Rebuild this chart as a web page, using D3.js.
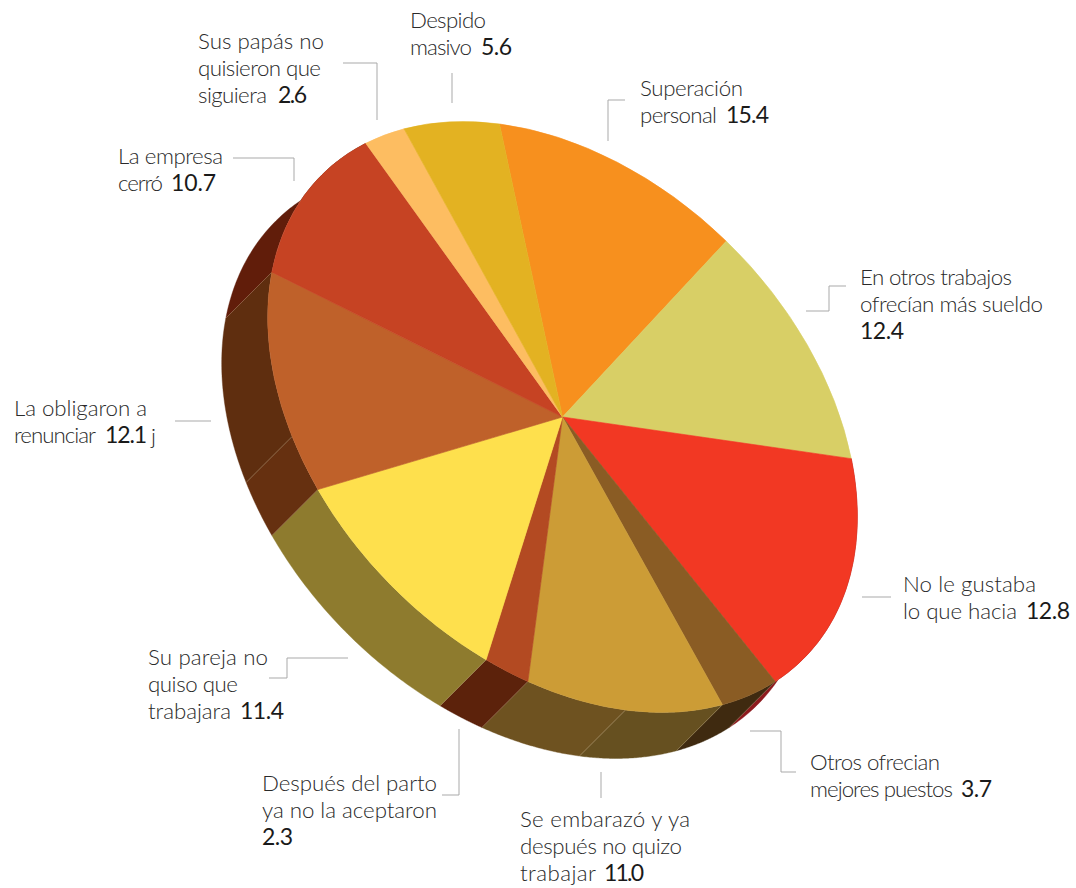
<!DOCTYPE html>
<html>
<head>
<meta charset="utf-8">
<script src="https://cdn.jsdelivr.net/npm/d3@7"></script>
<style>
html,body{margin:0;padding:0;background:#fff;}
svg{display:block;}
text{font-family:"Lato",sans-serif;font-weight:300;font-size:22.3px;fill:#2a2a2a;}
text.n{font-weight:400;font-size:23px;fill:#1a1a1a;}
</style>
</head>
<body>
<svg id="c" width="1076" height="888"></svg>
<script>
// Slice sizes as drawn in the picture (the printed labels for the orange and red slices are swapped in the original)
const sliceNames = ["Superación personal","En otros trabajos ofrecían más sueldo","No le gustaba lo que hacia","Otros ofrecian mejores puestos","Se embarazó y ya después no quizo trabajar","Después del parto ya no la aceptaron","Su pareja no quiso que trabajara","La obligaron a renunciar","La empresa cerró","Sus papás no quisieron que siguiera","Despido masivo"];
const sliceValues = [12.8,12.4,15.4,3.7,11.0,2.3,11.4,12.1,10.7,2.6,5.6];
const sliceColors = ["#F7901E","#D8CF66","#F23823","#8A5C24","#CC9C36","#B34A22","#FEE04D","#BF612A","#C64323","#FDBD61","#E3B222"];
// Side wall pieces (some slices have two pieces)
const wallValues = [12.8,12.4,15.4,3.7,5.7,5.3,2.3,11.4,2.9,9.2,10.7,2.6,5.6];
const wallColors = ["#F7901E","#D8CF66","#8E1A1E","#3F2A10","#665020","#6E5220","#5C220B","#8E7B2E","#663010","#5F2E0F","#611D0A","#FDBD61","#E3B222"];
const wallVisible = [false,false,true,true,true,true,true,true,true,true,true,false,false];

// Label lines: [plain text, number]
const labelLines = [
  [["Sus papás no",""],["quisieron que",""],["siguiera","2.6"]],
  [["Despido",""],["masivo","5.6"]],
  [["Superación",""],["personal","15.4"]],
  [["En otros trabajos",""],["ofrecían más sueldo",""],["","12.4"]],
  [["No le gustaba",""],["lo que hacia","12.8"]],
  [["Otros ofrecian",""],["mejores puestos","3.7"]],
  [["Se embarazó y ya",""],["después no quizo",""],["trabajar","11.0"]],
  [["Después del parto",""],["ya no la aceptaron",""],["","2.3"]],
  [["Su pareja no",""],["quiso que",""],["trabajara","11.4"]],
  [["La obligaron a",""],["renunciar","12.1"]],
  [["La empresa",""],["cerró","10.7"]]
];
const footnote = "j";
// Layout: left edge, first baseline, and per line [right end of text, number left, number right]
const labelX = [198,410,640,860,903,810,520,262,148,14,118];
const labelY = [49,28,96,285,592,770,827,791,665,416,164];
const lineGap = 27;
const labelEnds = [
  [[324],[321],[267,278,307]],
  [[486],[472,481,512]],
  [[743],[717,726,769]],
  [[1012],[1043],[0,860,904]],
  [[1036],[1017,1026,1070]],
  [[940],[953,961,992]],
  [[690],[682],[596,604,644]],
  [[437],[437],[0,262,293]],
  [[268],[238],[231,240,284]],
  [[147],[96,105,147]],
  [[223],[163,171,216]]
];

const leaders = [
  [[343,63],[377,63],[377,120]],
  [[452,73],[452,103]],
  [[625,100],[608,100],[608,141]],
  [[846,286],[829,286],[829,311],[806,311]],
  [[862,597],[891,597]],
  [[750,731],[781,731],[781,772],[796,772]],
  [[601,772],[601,798]],
  [[459,729],[459,795],[442,795]],
  [[348,658],[287,658],[287,678],[269,678]],
  [[175,421],[211,421]],
  [[233,158],[294,158],[294,181]]
];

// Projection of the tilted disc
const C = [562.5,417], A = [-63,-293], B = [288,38], D = [-46,46];
const project = a => [C[0]+A[0]*Math.cos(a)+B[0]*Math.sin(a), C[1]+A[1]*Math.cos(a)+B[1]*Math.sin(a)];

const svg = d3.select("#c");
const pie = d3.pie().sort(null).value(d=>d);
const line = d3.line();

// Side walls
const wallG = svg.append("g");
pie(wallValues).forEach((w,i)=>{
  if(!wallVisible[i]) return;
  const n = 60;
  const angs = d3.range(n+1).map(k=>w.startAngle+(w.endAngle-w.startAngle)*k/n);
  const top = angs.map(project);
  const bot = angs.map(project).map(p=>[p[0]+D[0],p[1]+D[1]]).reverse();
  wallG.append("path").attr("d",line(top.concat(bot))+"Z")
    .attr("fill",wallColors[i]).attr("stroke",wallColors[i]).attr("stroke-width",0.4);
});
// Hairlines between wall pieces
pie(wallValues).forEach((w,i)=>{
  if(!wallVisible[i] || i===2) return;
  const p = project(w.startAngle);
  wallG.append("line").attr("x1",p[0]).attr("y1",p[1]).attr("x2",p[0]+D[0]).attr("y2",p[1]+D[1])
    .attr("stroke","#c9b48a").attr("stroke-opacity",0.45).attr("stroke-width",0.7);
});

// Top face
const R = 100;
const arc = d3.arc().innerRadius(0).outerRadius(R);
const topG = svg.append("g")
  .attr("transform",`matrix(${B[0]/R},${B[1]/R},${-A[0]/R},${-A[1]/R},${C[0]},${C[1]})`);
topG.selectAll("path").data(pie(sliceValues)).join("path")
  .attr("d",arc).attr("fill",(d,i)=>sliceColors[i])
  .attr("stroke",(d,i)=>sliceColors[i]).attr("stroke-width",0.2);

// Leaders
svg.append("g").selectAll("path").data(leaders).join("path")
  .attr("d",d=>line(d)).attr("fill","none").attr("stroke","#a9a9a9").attr("stroke-width",1);

// Labels
labelLines.forEach((lines,i)=>{
  lines.forEach((l,j)=>{
    const y = labelY[i]+j*lineGap, e = labelEnds[i][j];
    if(l[0]) svg.append("text").attr("x",labelX[i]).attr("y",y).text(l[0])
      .attr("textLength",e[0]-labelX[i]).attr("lengthAdjust","spacing");
    if(l[1]) svg.append("text").attr("class","n").attr("x",e[1]).attr("y",y).text(l[1])
      .attr("textLength",e[2]-e[1]).attr("lengthAdjust","spacing");
  });
});
svg.append("text").attr("x",151).attr("y",444).text(footnote);
</script>
</body>
</html>
